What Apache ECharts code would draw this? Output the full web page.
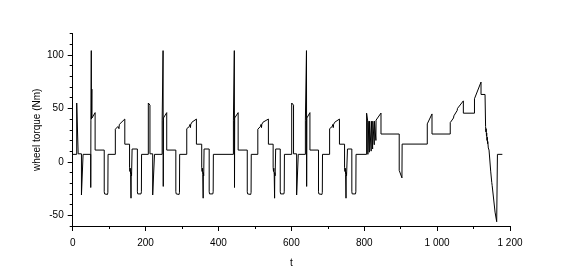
<!DOCTYPE html>
<html><head><meta charset="utf-8">
<script src="https://cdn.jsdelivr.net/npm/echarts@6/dist/echarts.min.js"></script>
<style>html,body{margin:0;padding:0;background:#fff}#c{width:584px;height:273px}</style>
</head><body><div id="c"></div>
<script>
// ---- data: [t (s), wheel torque (Nm)] ----
const ece1 = [[0,7],[11,7],[11,55],[15,54],[15,7.5],[24,7.5],[24,-31],[28.5,-31],[28.5,7],
[49.5,7],[49.5,-24],[50,39],[51,40],[51,104],[51.5,40],[52.5,68],[53,41],[61.5,46],[61.5,11],
[86.5,11],[86.5,-28],[87.5,-30],[95.5,-30.5],[96.5,-28.5],[97,7],
[117,7],[117,30.5],[121,31],[124,33],[126,34],[127,31],[128,35],[130,34],[131,36.5],[143,40],[143,16.5],
[156,16.5],[156,-5],[157,-9],[158,-6],[159,-12],[160,-34],[160.5,-10],[161.5,-13],[162.5,-12],[163,12],
[177.5,12],[177.5,-28],[178.5,-30],[187.5,-30],[188.5,-28],[189,7]];
const ece2 = [[207.5,7],[207.5,55],[212,53],[212,7.5],[219.5,7.5],[219.5,-31],[224.5,-31],[224.5,7],
[245.5,7],[245.5,39],[248,40],[248,104],[248.5,-23],[249,41],[258,46],[258,11],
[283,11],[283,-28],[284,-30],[292,-30.5],[293,-28.5],[293.5,7],
[313,7],[313,31],[317,32],[320,33],[322,35],[323,32],[324,35],[326,34],[327,37],[339.5,40],[339.5,16.5],
[354,16.5],[354,-5],[355,-9],[356,-6],[357,-12],[358,-34],[358.5,-10],[359.5,-13],[360,-12],[360.5,12],
[374.5,12],[374.5,-28],[375.5,-30],[384.5,-30],[385.5,-28],[386,7]];
const ece3 = [[441,7],[441,39],[443.5,40],[443.5,104],[444,-24],[444.5,41],[454,46],[454,11],
[479,11],[479,-28],[480,-30],[488.5,-30.5],[489.5,-28.5],[490,7],
[508,7],[508,30.5],[512,31],[515,33],[517,35],[518,32],[519,35],[521,34],[522,37],[537,40],[537,16.5],
[550,16.5],[550,-5],[551,-9],[552,-6],[553,-12],[554,-34],[554.5,-10],[555.5,-13],[556.5,-12],[557,12],
[569.5,12],[569.5,-28],[570.5,-30],[579.5,-30],[580.5,-28],[581,7]];
const ece4 = [[601,7],[601,55],[606,53],[606,7.5],[614.5,7.5],[614.5,-31],[619,-31],[619,7],
[638.5,7],[638.5,39],[641.5,40],[641.5,104],[642,-23],[642.5,41],[651,46],[651,11],
[674.5,11],[674.5,-28],[675.5,-30],[684,-30.5],[685,-28.5],[685.5,7],
[705,7],[705,31],[709,32],[712,33],[714,35],[715,32],[716,35],[718,34],[719,37],[732,40],[732,16.5],
[746,16.5],[746,-5],[747,-9],[748,-6],[749,-12],[750,-34],[750.5,-10],[751.5,-13],[753,-12],[754,12],
[766,12],[766,-28],[767,-30],[776,-30],[777,-28],[777.5,7]];
const eudc = [[806.5,7],[806.5,45.5],[810,37],[810,7],[810.5,38],[814,39],[814,9],[814.5,38],
[819,39],[819,10],[819.5,38],[823,39],[823,12],[823.5,38],[827.5,39],[827.5,16],[828,38],
[832,39],[832,20],[832.5,39],[846,45.6],[846,26],
[896,26],[896,-8],[903.5,-15],[904,16.6],
[973,16.6],[973,35.5],[986,44.8],[986,26],
[1036,26],[1036,36.7],[1045,41],[1046,43],[1055,48],[1056,50],[1072,57],[1072,45.5],
[1102.5,45.5],[1102.5,59],[1120.5,74.6],[1120.5,63],
[1131.5,63],[1133,33],[1134,28],[1134.5,31],[1135.5,24],[1136,27],[1137,20],[1137.5,23],[1138.5,17],[1139,19],
[1140.5,13],[1142.5,11],[1147,-8.7],[1150,-19.4],[1151,-22],[1159,-47],[1163.5,-56],[1165,-56],[1165.5,7],[1179,7]];

const yMajorTicks = [-50, 0, 50, 100];
const yMinorTicks = [-60,-40,-30,-20,-10,10,20,30,40,60,70,80,90,110,120];
const xMin = 0, xMax = 1200, xStep = 200;
const yMin = -60, yMax = 120;

const seriesData = [].concat(ece1, ece2, ece3, ece4, eudc);

const font = 'Liberation Sans, Arial, sans-serif';
const chart = echarts.init(document.getElementById('c'), null, {renderer: 'canvas'});
chart.setOption({
  animation: false,
  backgroundColor: '#fff',
  grid: {left: 72.7, right: 74, top: 33.5, bottom: 46.3},
  xAxis: {
    type: 'value', min: xMin, max: xMax, interval: xStep,
    name: 't', nameLocation: 'middle', nameGap: 32,
    nameTextStyle: {color: '#000', fontFamily: font, fontSize: 10},
    axisLine: {onZero: false, lineStyle: {color: '#000', width: 1}},
    axisTick: {length: 5, lineStyle: {color: '#000'}},
    minorTick: {show: true, splitNumber: 2, length: 3, lineStyle: {color: '#000'}},
    splitLine: {show: false},
    axisLabel: {color: '#000', fontFamily: font, fontSize: 10, margin: 12,
      formatter: v => v >= 1000 ? Math.floor(v/1000) + ' ' + String(v % 1000).padStart(3, '0') : String(v)}
  },
  yAxis: [{
    type: 'value', min: yMin, max: yMax,
    name: 'wheel torque (Nm)', nameLocation: 'middle', nameGap: 30, nameMoveOverlap: false,
    nameTextStyle: {color: '#000', fontFamily: font, fontSize: 10},
    axisLine: {show: true, onZero: false, lineStyle: {color: '#000', width: 1}},
    axisTick: {show: true, length: 5, customValues: yMajorTicks, lineStyle: {color: '#000'}},
    axisLabel: {color: '#000', fontFamily: font, fontSize: 10, margin: 9, customValues: yMajorTicks},
    splitLine: {show: false}
  }, {
    type: 'value', min: yMin, max: yMax, position: 'left', offset: 0,
    axisLine: {show: false, onZero: false},
    axisTick: {show: true, length: 3, customValues: yMinorTicks, lineStyle: {color: '#000'}},
    axisLabel: {show: false},
    splitLine: {show: false}
  }],
  series: [{
    type: 'line', yAxisIndex: 0, showSymbol: false, symbol: 'none',
    lineStyle: {color: '#000', width: 1},
    data: seriesData
  }]
});
</script>
</body></html>
